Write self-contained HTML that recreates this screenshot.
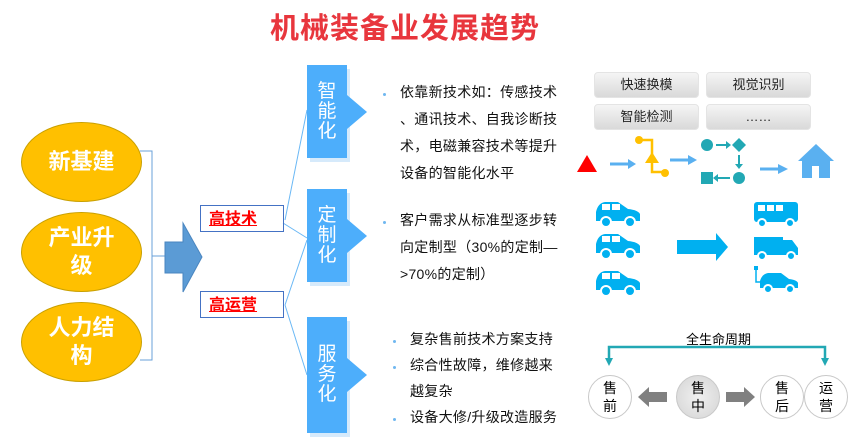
<!DOCTYPE html>
<html><head><meta charset="utf-8"><style>
body{margin:0;width:849px;height:445px;background:#fff;position:relative;overflow:hidden;font-family:"Liberation Sans","Noto Sans CJK SC",sans-serif}
.a{position:absolute}
.ell{position:absolute;left:21px;width:119px;height:78px;border-radius:50%;background:#ffc000;border:1px solid #c9a000;color:#fff;font-weight:bold;font-size:22px;display:flex;align-items:center;justify-content:center;text-align:center;line-height:28px}
.box{position:absolute;left:200px;width:84px;height:27px;border:1px solid #4472c4;color:#f00;font-weight:bold;font-size:16px;text-decoration:underline;line-height:27px;padding-left:8px;box-sizing:border-box}
.col{position:absolute;left:307px;width:40px;background:#4daefb;color:#fff;font-size:19px;line-height:20px;text-align:center;display:flex;align-items:center;justify-content:center;box-shadow:3px 4px 0 #d6eafb}
.tri{position:absolute;width:0;height:0;border-top:17px solid transparent;border-bottom:17px solid transparent;border-left:20px solid #4daefb}
.txt{position:absolute;font-size:14px;line-height:27px;color:#111;white-space:nowrap;letter-spacing:0.3px}
.dot{position:absolute;width:3px;height:3px;background:#6fb7f0;border-radius:50%}
.btn{position:absolute;width:103px;height:24px;border-radius:4px;background:linear-gradient(#f5f5f5,#d9d9d9);border:1px solid #e4e4e4;font-size:13px;text-align:center;line-height:24px;color:#222}
.circ{position:absolute;width:44px;height:44px;border-radius:50%;border:1px solid #c8c8c8;background:#fff;font-size:14px;line-height:18px;text-align:center;box-sizing:border-box;padding-top:3px}
</style></head><body>
<div class="a" style="left:270px;top:5px;font-size:29px;font-weight:bold;color:#e8363d;letter-spacing:1px">机械装备业发展趋势</div>

<div class="ell" style="top:122px">新基建</div>
<div class="ell" style="top:212px">产业升<br>级</div>
<div class="ell" style="top:302px">人力结<br>构</div>

<svg class="a" style="left:0;top:0" width="849" height="445">
<path d="M140 151 H152 V360 H140 M152 256 H165" fill="none" stroke="#6aa0d8" stroke-width="1"/>
<path d="M165 242 H183 V223 L202 257 L183 292 V273 H165 Z" fill="#5b9bd5" stroke="#4a86c0"/>
<path d="M285 220 L307 110 M283 223 L307 238 M285 305 L307 240 M285 305 L307 375" fill="none" stroke="#6ab8f5" stroke-width="1"/>
<polygon points="577,172 587,155 597,172" fill="#f00"/>
<path d="M610 164 H630" stroke="#5ab0f0" stroke-width="3"/><polygon points="628,159 636,164 628,169" fill="#5ab0f0"/>
<path d="M639 140 H652 V172 H664" fill="none" stroke="#ffc000" stroke-width="2.5"/>
<circle cx="639" cy="140" r="4" fill="#ffc000"/><circle cx="665" cy="173" r="4" fill="#ffc000"/>
<polygon points="652,152 659,163 645,163" fill="#ffc000"/>
<path d="M670 160 H690" stroke="#5ab0f0" stroke-width="3"/><polygon points="688,155 697,160 688,165" fill="#5ab0f0"/>
<circle cx="707" cy="145" r="6" fill="#22a8b4"/><path d="M716 145 H728" stroke="#22a8b4" stroke-width="2"/><polygon points="726,141 731,145 726,149" fill="#22a8b4"/>
<polygon points="739,138 746,145 739,152 732,145" fill="#22a8b4"/>
<path d="M739 155 V165" stroke="#22a8b4" stroke-width="2"/><polygon points="735,164 739,169 743,164" fill="#22a8b4"/>
<circle cx="739" cy="178" r="6" fill="#22a8b4"/><path d="M715 178 H730" stroke="#22a8b4" stroke-width="2"/><polygon points="718,174 713,178 718,182" fill="#22a8b4"/>
<rect x="701" y="172" width="12" height="12" fill="#22a8b4"/>
<path d="M760 169 H780" stroke="#5ab0f0" stroke-width="3"/><polygon points="778,164 788,169 778,174" fill="#5ab0f0"/>
<polygon points="816,144 798,161 802,161 802,178 830,178 830,161 834,161" fill="#5ab0f0"/>
<rect x="812" y="166" width="7" height="12" fill="#fff"/>
<g fill="#00b0f0">
<g id="car"><path d="M596 221 V212 Q598 203 605 202 H618 L628 209 Q638 210 640 214 V221 Z"/><rect x="602" y="204" width="8" height="6" fill="#fff"/><rect x="612" y="204" width="8" height="6" fill="#fff"/><circle cx="606" cy="222" r="5" stroke="#fff" stroke-width="2"/><circle cx="630" cy="222" r="5" stroke="#fff" stroke-width="2"/></g>
<use href="#car" y="32"/><use href="#car" y="69"/>
<rect x="677" y="240" width="41" height="14"/><polygon points="716,233 728,247 716,261"/>
<rect x="754" y="202" width="44" height="20" rx="3"/><rect x="758" y="205" width="7" height="6" fill="#fff"/><rect x="767" y="205" width="7" height="6" fill="#fff"/><rect x="776" y="205" width="7" height="6" fill="#fff"/><circle cx="762" cy="223" r="4" stroke="#fff" stroke-width="2"/><circle cx="790" cy="223" r="4" stroke="#fff" stroke-width="2"/>
<polygon points="754,237 783,237 783,255 754,255"/><polygon points="783,240 792,240 798,248 798,255 783,255"/><circle cx="762" cy="256" r="4" stroke="#fff" stroke-width="2"/><circle cx="791" cy="256" r="4" stroke="#fff" stroke-width="2"/>
<path d="M760 288 V281 Q762 274 768 273 H781 L789 279 Q797 280 798 283 V288 Z"/><circle cx="768" cy="289" r="4" stroke="#fff" stroke-width="2"/><circle cx="790" cy="289" r="4" stroke="#fff" stroke-width="2"/>
<path d="M756 268 V282 H760" fill="none" stroke="#00b0f0" stroke-width="1.5"/><rect x="754" y="266" width="4" height="4"/>
</g>
<path d="M609 360 V347 H825 V360" fill="none" stroke="#22a8b4" stroke-width="2.5"/>
<polygon points="605,358 609,366 613,358" fill="#22a8b4"/><polygon points="821,358 825,366 829,358" fill="#22a8b4"/>
<polygon points="638,397 649,387 649,392 667,392 667,402 649,402 649,407" fill="#808080"/>
<polygon points="755,397 744,387 744,392 726,392 726,402 744,402 744,407" fill="#808080"/>
</svg>

<div class="box" style="top:205px">高技术</div>
<div class="box" style="top:291px">高运营</div>

<div class="col" style="top:65px;height:93px">智<br>能<br>化</div>
<div class="tri" style="left:347px;top:95px"></div>
<div class="col" style="top:189px;height:93px">定<br>制<br>化</div>
<div class="tri" style="left:347px;top:219px"></div>
<div class="col" style="top:317px;height:116px">服<br>务<br>化</div>
<div class="tri" style="left:347px;top:358px"></div>

<div class="dot" style="left:383px;top:93px"></div>
<div class="txt" style="left:400px;top:79px">依靠新技术如：传感技术<br>、通讯技术、自我诊断技<br>术，电磁兼容技术等提升<br>设备的智能化水平</div>
<div class="dot" style="left:383px;top:221px"></div>
<div class="txt" style="left:400px;top:207px">客户需求从标准型逐步转<br>向定制型（30%的定制—<br>&gt;70%的定制）</div>
<div class="dot" style="left:393px;top:340px"></div>
<div class="dot" style="left:393px;top:366px"></div>
<div class="dot" style="left:393px;top:418px"></div>
<div class="txt" style="left:410px;top:326px;line-height:26px">复杂售前技术方案支持<br>综合性故障，维修越来<br>越复杂<br>设备大修/升级改造服务</div>

<div class="btn" style="left:594px;top:72px">快速换模</div>
<div class="btn" style="left:706px;top:72px">视觉识别</div>
<div class="btn" style="left:594px;top:104px">智能检测</div>
<div class="btn" style="left:706px;top:104px">……</div>

<div class="a" style="left:686px;top:329px;font-size:13px">全生命周期</div>
<div class="circ" style="left:588px;top:375px">售<br>前</div>
<div class="circ" style="left:676px;top:375px;background:radial-gradient(#f0f0f0,#d4d4d4)">售<br>中</div>
<div class="circ" style="left:760px;top:375px">售<br>后</div>
<div class="circ" style="left:804px;top:375px">运<br>营</div>
</body></html>
